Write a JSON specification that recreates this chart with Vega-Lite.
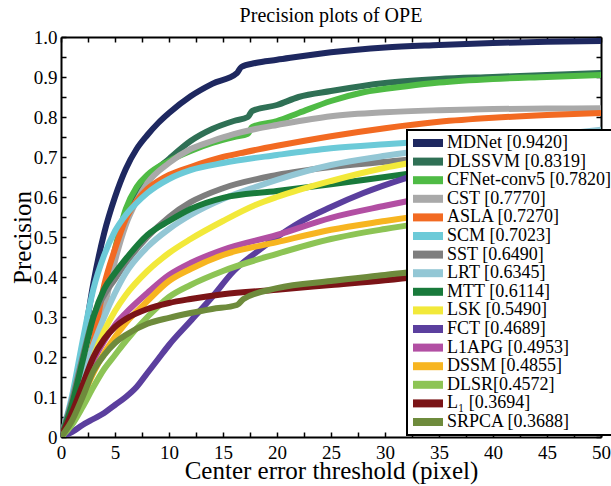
{
"$schema": "https://vega.github.io/schema/vega-lite/v6.json",
"width": 540, "height": 400,
"autosize": {"type": "none"},
"padding": {"left": 61, "top": 37, "right": 10, "bottom": 49},
"background": "white",
"title": {"text": "Precision plots of OPE", "font": "Liberation Serif", "fontSize": 20, "fontWeight": "normal", "color": "black", "anchor": "middle", "offset": 2},
"config": {"view": {"stroke": null}, "legend": {"strokeWidth": 2}, "axis": {"domainColor": "black", "domainWidth": 2, "tickColor": "black", "tickWidth": 1.5, "grid": false, "labelFont": "Liberation Serif", "labelFontSize": 19, "labelColor": "black", "titleFont": "Liberation Serif", "titleFontSize": 25, "titleFontWeight": "normal", "titleColor": "black"}},
"data": {"values": [
{"m":"MDNet","x":0,"y":0},{"m":"MDNet","x":1,"y":0.08},{"m":"MDNet","x":2,"y":0.22},{"m":"MDNet","x":3,"y":0.385},{"m":"MDNet","x":4,"y":0.51},{"m":"MDNet","x":5,"y":0.6},{"m":"MDNet","x":6,"y":0.67},{"m":"MDNet","x":7,"y":0.72},{"m":"MDNet","x":8,"y":0.755},{"m":"MDNet","x":9,"y":0.785},{"m":"MDNet","x":10,"y":0.81},{"m":"MDNet","x":12,"y":0.852},{"m":"MDNet","x":14,"y":0.883},{"m":"MDNet","x":16.3,"y":0.91},{"m":"MDNet","x":16.7,"y":0.925},{"m":"MDNet","x":18,"y":0.935},{"m":"MDNet","x":20,"y":0.943},{"m":"MDNet","x":25,"y":0.962},{"m":"MDNet","x":30,"y":0.974},{"m":"MDNet","x":35,"y":0.98},{"m":"MDNet","x":40,"y":0.985},{"m":"MDNet","x":45,"y":0.988},{"m":"MDNet","x":50,"y":0.99},
{"m":"DLSSVM","x":0,"y":0},{"m":"DLSSVM","x":1,"y":0.05},{"m":"DLSSVM","x":2,"y":0.12},{"m":"DLSSVM","x":3,"y":0.22},{"m":"DLSSVM","x":4,"y":0.34},{"m":"DLSSVM","x":5,"y":0.45},{"m":"DLSSVM","x":6,"y":0.54},{"m":"DLSSVM","x":7,"y":0.6},{"m":"DLSSVM","x":8,"y":0.645},{"m":"DLSSVM","x":10,"y":0.695},{"m":"DLSSVM","x":12,"y":0.74},{"m":"DLSSVM","x":14,"y":0.77},{"m":"DLSSVM","x":16,"y":0.79},{"m":"DLSSVM","x":17.3,"y":0.8},{"m":"DLSSVM","x":17.7,"y":0.815},{"m":"DLSSVM","x":20,"y":0.83},{"m":"DLSSVM","x":22,"y":0.85},{"m":"DLSSVM","x":25,"y":0.865},{"m":"DLSSVM","x":30,"y":0.885},{"m":"DLSSVM","x":35,"y":0.895},{"m":"DLSSVM","x":40,"y":0.9},{"m":"DLSSVM","x":45,"y":0.905},{"m":"DLSSVM","x":50,"y":0.91},
{"m":"CFNet-conv5","x":0,"y":0},{"m":"CFNet-conv5","x":1,"y":0.05},{"m":"CFNet-conv5","x":2,"y":0.12},{"m":"CFNet-conv5","x":3,"y":0.22},{"m":"CFNet-conv5","x":4,"y":0.35},{"m":"CFNet-conv5","x":5,"y":0.47},{"m":"CFNet-conv5","x":6,"y":0.57},{"m":"CFNet-conv5","x":7,"y":0.625},{"m":"CFNet-conv5","x":8,"y":0.655},{"m":"CFNet-conv5","x":10,"y":0.69},{"m":"CFNet-conv5","x":12,"y":0.715},{"m":"CFNet-conv5","x":14,"y":0.735},{"m":"CFNet-conv5","x":16,"y":0.75},{"m":"CFNet-conv5","x":17.3,"y":0.758},{"m":"CFNet-conv5","x":17.7,"y":0.775},{"m":"CFNet-conv5","x":20,"y":0.79},{"m":"CFNet-conv5","x":22,"y":0.81},{"m":"CFNet-conv5","x":25,"y":0.84},{"m":"CFNet-conv5","x":28,"y":0.862},{"m":"CFNet-conv5","x":32,"y":0.877},{"m":"CFNet-conv5","x":35,"y":0.886},{"m":"CFNet-conv5","x":40,"y":0.895},{"m":"CFNet-conv5","x":45,"y":0.9},{"m":"CFNet-conv5","x":50,"y":0.905},
{"m":"CST","x":0,"y":0},{"m":"CST","x":1,"y":0.05},{"m":"CST","x":2,"y":0.11},{"m":"CST","x":3,"y":0.2},{"m":"CST","x":4,"y":0.32},{"m":"CST","x":5,"y":0.44},{"m":"CST","x":6,"y":0.53},{"m":"CST","x":7,"y":0.59},{"m":"CST","x":8,"y":0.635},{"m":"CST","x":10,"y":0.685},{"m":"CST","x":12,"y":0.72},{"m":"CST","x":14,"y":0.74},{"m":"CST","x":16,"y":0.757},{"m":"CST","x":18,"y":0.77},{"m":"CST","x":20,"y":0.78},{"m":"CST","x":25,"y":0.802},{"m":"CST","x":30,"y":0.812},{"m":"CST","x":35,"y":0.817},{"m":"CST","x":40,"y":0.82},{"m":"CST","x":45,"y":0.821},{"m":"CST","x":50,"y":0.822},
{"m":"ASLA","x":0,"y":0},{"m":"ASLA","x":1,"y":0.05},{"m":"ASLA","x":2,"y":0.12},{"m":"ASLA","x":3,"y":0.24},{"m":"ASLA","x":4,"y":0.38},{"m":"ASLA","x":5,"y":0.47},{"m":"ASLA","x":6,"y":0.545},{"m":"ASLA","x":7,"y":0.59},{"m":"ASLA","x":8,"y":0.62},{"m":"ASLA","x":9,"y":0.64},{"m":"ASLA","x":10,"y":0.655},{"m":"ASLA","x":12,"y":0.675},{"m":"ASLA","x":15,"y":0.7},{"m":"ASLA","x":17,"y":0.712},{"m":"ASLA","x":20,"y":0.728},{"m":"ASLA","x":25,"y":0.752},{"m":"ASLA","x":30,"y":0.772},{"m":"ASLA","x":35,"y":0.788},{"m":"ASLA","x":40,"y":0.798},{"m":"ASLA","x":45,"y":0.805},{"m":"ASLA","x":50,"y":0.81},
{"m":"SCM","x":0,"y":0},{"m":"SCM","x":1,"y":0.1},{"m":"SCM","x":2,"y":0.24},{"m":"SCM","x":3,"y":0.37},{"m":"SCM","x":4,"y":0.455},{"m":"SCM","x":5,"y":0.515},{"m":"SCM","x":6,"y":0.555},{"m":"SCM","x":7,"y":0.585},{"m":"SCM","x":8,"y":0.61},{"m":"SCM","x":10,"y":0.645},{"m":"SCM","x":12,"y":0.667},{"m":"SCM","x":15,"y":0.685},{"m":"SCM","x":20,"y":0.705},{"m":"SCM","x":25,"y":0.722},{"m":"SCM","x":30,"y":0.732},{"m":"SCM","x":35,"y":0.74},{"m":"SCM","x":40,"y":0.745},{"m":"SCM","x":45,"y":0.75},{"m":"SCM","x":50,"y":0.755},
{"m":"SST","x":0,"y":0},{"m":"SST","x":1,"y":0.09},{"m":"SST","x":2,"y":0.2},{"m":"SST","x":3,"y":0.3},{"m":"SST","x":4,"y":0.355},{"m":"SST","x":5,"y":0.395},{"m":"SST","x":6,"y":0.435},{"m":"SST","x":8,"y":0.5},{"m":"SST","x":10,"y":0.55},{"m":"SST","x":12,"y":0.587},{"m":"SST","x":15,"y":0.622},{"m":"SST","x":20,"y":0.655},{"m":"SST","x":25,"y":0.675},{"m":"SST","x":30,"y":0.688},{"m":"SST","x":35,"y":0.7},{"m":"SST","x":40,"y":0.708},{"m":"SST","x":45,"y":0.715},{"m":"SST","x":50,"y":0.72},
{"m":"LRT","x":0,"y":0},{"m":"LRT","x":1,"y":0.07},{"m":"LRT","x":2,"y":0.15},{"m":"LRT","x":3,"y":0.23},{"m":"LRT","x":4,"y":0.3},{"m":"LRT","x":5,"y":0.36},{"m":"LRT","x":6,"y":0.41},{"m":"LRT","x":8,"y":0.475},{"m":"LRT","x":10,"y":0.52},{"m":"LRT","x":12,"y":0.555},{"m":"LRT","x":15,"y":0.595},{"m":"LRT","x":18,"y":0.625},{"m":"LRT","x":20,"y":0.643},{"m":"LRT","x":25,"y":0.68},{"m":"LRT","x":30,"y":0.703},{"m":"LRT","x":35,"y":0.722},{"m":"LRT","x":40,"y":0.738},{"m":"LRT","x":45,"y":0.753},{"m":"LRT","x":50,"y":0.768},
{"m":"MTT","x":0,"y":0},{"m":"MTT","x":1,"y":0.08},{"m":"MTT","x":2,"y":0.19},{"m":"MTT","x":3,"y":0.3},{"m":"MTT","x":4,"y":0.37},{"m":"MTT","x":5,"y":0.41},{"m":"MTT","x":6,"y":0.445},{"m":"MTT","x":8,"y":0.505},{"m":"MTT","x":10,"y":0.54},{"m":"MTT","x":12,"y":0.57},{"m":"MTT","x":15,"y":0.598},{"m":"MTT","x":20,"y":0.615},{"m":"MTT","x":25,"y":0.632},{"m":"MTT","x":30,"y":0.65},{"m":"MTT","x":35,"y":0.668},{"m":"MTT","x":40,"y":0.685},{"m":"MTT","x":45,"y":0.698},{"m":"MTT","x":50,"y":0.71},
{"m":"LSK","x":0,"y":0},{"m":"LSK","x":1,"y":0.05},{"m":"LSK","x":2,"y":0.12},{"m":"LSK","x":3,"y":0.2},{"m":"LSK","x":4,"y":0.265},{"m":"LSK","x":5,"y":0.315},{"m":"LSK","x":6,"y":0.355},{"m":"LSK","x":8,"y":0.415},{"m":"LSK","x":10,"y":0.46},{"m":"LSK","x":12,"y":0.495},{"m":"LSK","x":15,"y":0.54},{"m":"LSK","x":18,"y":0.58},{"m":"LSK","x":20,"y":0.6},{"m":"LSK","x":25,"y":0.64},{"m":"LSK","x":30,"y":0.673},{"m":"LSK","x":35,"y":0.698},{"m":"LSK","x":40,"y":0.72},{"m":"LSK","x":45,"y":0.738},{"m":"LSK","x":50,"y":0.755},
{"m":"FCT","x":0,"y":0},{"m":"FCT","x":1,"y":0.012},{"m":"FCT","x":2,"y":0.03},{"m":"FCT","x":3,"y":0.045},{"m":"FCT","x":4,"y":0.06},{"m":"FCT","x":5,"y":0.08},{"m":"FCT","x":6,"y":0.1},{"m":"FCT","x":7,"y":0.125},{"m":"FCT","x":8,"y":0.16},{"m":"FCT","x":9,"y":0.195},{"m":"FCT","x":10,"y":0.23},{"m":"FCT","x":12,"y":0.29},{"m":"FCT","x":14,"y":0.35},{"m":"FCT","x":16,"y":0.415},{"m":"FCT","x":18,"y":0.46},{"m":"FCT","x":20,"y":0.5},{"m":"FCT","x":22,"y":0.535},{"m":"FCT","x":25,"y":0.575},{"m":"FCT","x":28,"y":0.61},{"m":"FCT","x":32,"y":0.648},{"m":"FCT","x":35,"y":0.672},{"m":"FCT","x":40,"y":0.703},{"m":"FCT","x":45,"y":0.725},{"m":"FCT","x":50,"y":0.738},
{"m":"L1APG","x":0,"y":0},{"m":"L1APG","x":1,"y":0.05},{"m":"L1APG","x":2,"y":0.12},{"m":"L1APG","x":3,"y":0.19},{"m":"L1APG","x":4,"y":0.24},{"m":"L1APG","x":5,"y":0.28},{"m":"L1APG","x":6,"y":0.31},{"m":"L1APG","x":8,"y":0.36},{"m":"L1APG","x":10,"y":0.405},{"m":"L1APG","x":12,"y":0.435},{"m":"L1APG","x":15,"y":0.468},{"m":"L1APG","x":20,"y":0.505},{"m":"L1APG","x":25,"y":0.548},{"m":"L1APG","x":30,"y":0.578},{"m":"L1APG","x":35,"y":0.605},{"m":"L1APG","x":40,"y":0.63},{"m":"L1APG","x":45,"y":0.655},{"m":"L1APG","x":50,"y":0.68},
{"m":"DSSM","x":0,"y":0},{"m":"DSSM","x":1,"y":0.04},{"m":"DSSM","x":2,"y":0.1},{"m":"DSSM","x":3,"y":0.16},{"m":"DSSM","x":4,"y":0.21},{"m":"DSSM","x":5,"y":0.25},{"m":"DSSM","x":6,"y":0.285},{"m":"DSSM","x":8,"y":0.34},{"m":"DSSM","x":10,"y":0.39},{"m":"DSSM","x":12,"y":0.42},{"m":"DSSM","x":15,"y":0.455},{"m":"DSSM","x":20,"y":0.487},{"m":"DSSM","x":25,"y":0.518},{"m":"DSSM","x":30,"y":0.54},{"m":"DSSM","x":35,"y":0.56},{"m":"DSSM","x":40,"y":0.58},{"m":"DSSM","x":45,"y":0.6},{"m":"DSSM","x":50,"y":0.618},
{"m":"DLSR","x":0,"y":0},{"m":"DLSR","x":1,"y":0.03},{"m":"DLSR","x":2,"y":0.075},{"m":"DLSR","x":3,"y":0.125},{"m":"DLSR","x":4,"y":0.17},{"m":"DLSR","x":5,"y":0.205},{"m":"DLSR","x":6,"y":0.24},{"m":"DLSR","x":8,"y":0.3},{"m":"DLSR","x":10,"y":0.35},{"m":"DLSR","x":12,"y":0.38},{"m":"DLSR","x":15,"y":0.415},{"m":"DLSR","x":20,"y":0.458},{"m":"DLSR","x":25,"y":0.495},{"m":"DLSR","x":30,"y":0.52},{"m":"DLSR","x":35,"y":0.54},{"m":"DLSR","x":40,"y":0.56},{"m":"DLSR","x":45,"y":0.58},{"m":"DLSR","x":50,"y":0.598},
{"m":"L1","x":0,"y":0},{"m":"L1","x":1,"y":0.06},{"m":"L1","x":2,"y":0.13},{"m":"L1","x":3,"y":0.2},{"m":"L1","x":4,"y":0.245},{"m":"L1","x":5,"y":0.275},{"m":"L1","x":6,"y":0.295},{"m":"L1","x":8,"y":0.32},{"m":"L1","x":10,"y":0.335},{"m":"L1","x":12,"y":0.345},{"m":"L1","x":15,"y":0.357},{"m":"L1","x":20,"y":0.368},{"m":"L1","x":25,"y":0.38},{"m":"L1","x":30,"y":0.392},{"m":"L1","x":35,"y":0.407},{"m":"L1","x":40,"y":0.428},{"m":"L1","x":45,"y":0.452},{"m":"L1","x":50,"y":0.475},
{"m":"SRPCA","x":0,"y":0},{"m":"SRPCA","x":1,"y":0.04},{"m":"SRPCA","x":2,"y":0.1},{"m":"SRPCA","x":3,"y":0.165},{"m":"SRPCA","x":4,"y":0.205},{"m":"SRPCA","x":5,"y":0.235},{"m":"SRPCA","x":6,"y":0.255},{"m":"SRPCA","x":8,"y":0.283},{"m":"SRPCA","x":10,"y":0.298},{"m":"SRPCA","x":12,"y":0.31},{"m":"SRPCA","x":14,"y":0.32},{"m":"SRPCA","x":16.3,"y":0.33},{"m":"SRPCA","x":16.9,"y":0.345},{"m":"SRPCA","x":20,"y":0.372},{"m":"SRPCA","x":25,"y":0.39},{"m":"SRPCA","x":30,"y":0.405},{"m":"SRPCA","x":35,"y":0.42},{"m":"SRPCA","x":40,"y":0.44},{"m":"SRPCA","x":45,"y":0.462},{"m":"SRPCA","x":50,"y":0.485}
]},
"layer": [
{"mark": {"type": "line", "strokeWidth": 6, "interpolate": "monotone", "clip": true},
 "encoding": {
  "x": {"field": "x", "type": "quantitative", "scale": {"domain": [0, 50], "nice": false, "zero": false},
   "axis": {"orient": "bottom", "values": [0,2.5,5,7.5,10,12.5,15,17.5,20,22.5,25,27.5,30,32.5,35,37.5,40,42.5,45,47.5,50], "labelExpr": "round(datum.value*2) % 10 == 0 ? datum.label : ''", "tickSize": -5, "labelPadding": 11, "labelFlush": false, "labelOverlap": false, "title": "Center error threshold (pixel)", "titlePadding": -4}},
  "y": {"field": "y", "type": "quantitative", "scale": {"domain": [0, 1], "nice": false},
   "axis": {"orient": "left", "values": [0,0.05,0.1,0.15,0.2,0.25,0.3,0.35,0.4,0.45,0.5,0.55,0.6,0.65,0.7,0.75,0.8,0.85,0.9,0.95,1], "labelExpr": "round(datum.value*20) % 2 == 0 ? (datum.value == 0 ? '0' : format(datum.value, '.1f')) : ''", "tickSize": -5, "labelPadding": 9, "labelFlush": false, "labelOverlap": false, "title": "Precision", "titlePadding": -2}},
  "color": {"field": "m", "type": "nominal",
   "scale": {"domain": ["MDNet","DLSSVM","CFNet-conv5","CST","ASLA","SCM","SST","LRT","MTT","LSK","FCT","L1APG","DSSM","DLSR","L1","SRPCA"],
             "range": ["#1e2860","#2f7055","#4fbb45","#a9a9a9","#f26a22","#6ccad8","#7e7e7e","#93c7d5","#197a3b","#f2e93a","#5b3f9e","#b24fa3","#f7b520","#8dc455","#7b1417","#6e8b3c"]},
   "legend": {"orient": "none", "legendX": 346, "legendY": 93, "title": null, "labelExpr": "datum.label == 'MDNet' ? 'MDNet [0.9420]' : datum.label == 'DLSSVM' ? 'DLSSVM [0.8319]' : datum.label == 'CFNet-conv5' ? 'CFNet-conv5 [0.7820]' : datum.label == 'CST' ? 'CST [0.7770]' : datum.label == 'ASLA' ? 'ASLA [0.7270]' : datum.label == 'SCM' ? 'SCM [0.7023]' : datum.label == 'SST' ? 'SST [0.6490]' : datum.label == 'LRT' ? 'LRT [0.6345]' : datum.label == 'MTT' ? 'MTT [0.6114]' : datum.label == 'LSK' ? 'LSK [0.5490]' : datum.label == 'FCT' ? 'FCT [0.4689]' : datum.label == 'L1APG' ? 'L1APG [0.4953]' : datum.label == 'DSSM' ? 'DSSM [0.4855]' : datum.label == 'DLSR' ? 'DLSR[0.4572]' : datum.label == 'L1' ? 'L\u2081 [0.3694]' : 'SRPCA [0.3688]'",
     "symbolType": "M-3.75,-1H3.75V1H-3.75Z", "symbolSize": 64, "symbolStrokeWidth": 0, "symbolOffset": 8, "labelFont": "Liberation Serif", "labelFontSize": 18, "labelColor": "black", "labelOffset": 10, "rowPadding": 0.6, "padding": 4, "strokeColor": "black", "fillColor": "white", "labelLimit": 300,
     "encode": {"symbols": {"update": {"fill": {"scale": "color", "field": "value"}, "stroke": {"value": "transparent"}, "strokeWidth": {"value": 0}, "fillOpacity": {"value": 1}}}}}}
 }},
{"mark": {"type": "point", "opacity": 0},
 "encoding": {
  "x": {"field": "x", "type": "quantitative", "axis": {"orient": "top", "values": [0,2.5,5,7.5,10,12.5,15,17.5,20,22.5,25,27.5,30,32.5,35,37.5,40,42.5,45,47.5,50], "labels": false, "tickSize": -5, "title": null}},
  "y": {"field": "y", "type": "quantitative", "axis": {"orient": "right", "values": [0,0.05,0.1,0.15,0.2,0.25,0.3,0.35,0.4,0.45,0.5,0.55,0.6,0.65,0.7,0.75,0.8,0.85,0.9,0.95,1], "labels": false, "tickSize": -5, "title": null}}
 }}
],
"resolve": {"axis": {"x": "independent", "y": "independent"}}
}
